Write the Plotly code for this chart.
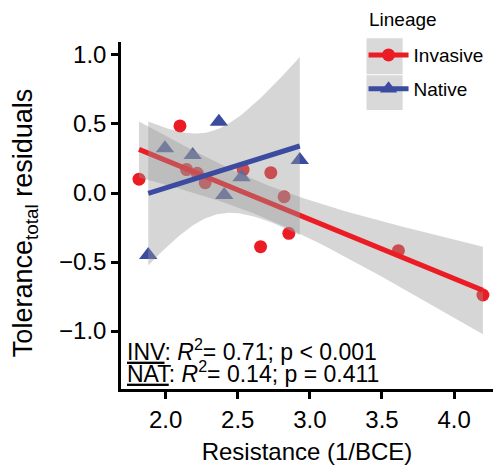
import numpy as np
import plotly.graph_objects as go

# ---- data ----
inv_x = [1.815, 2.099, 2.145, 2.219, 2.274, 2.537, 2.729, 2.821, 2.854, 2.658, 3.614, 4.200]
inv_y = [0.100, 0.486, 0.170, 0.143, 0.075, 0.170, 0.147, -0.027, -0.292, -0.389, -0.418, -0.739]
nat_x = [1.879, 1.995, 2.187, 2.369, 2.526, 2.406, 2.930]
nat_y = [-0.450, 0.324, 0.275, 0.517, 0.114, -0.014, 0.239]

lineages = ["Invasive", "Native"]
legend_title = "Lineage"
x_ticks = [2.0, 2.5, 3.0, 3.5, 4.0]
y_ticks = [-1.0, -0.5, 0.0, 0.5, 1.0]
x_title = "Resistance (1/BCE)"
y_title = "Tolerance<sub>total</sub> residuals"
stats_text = [
    "<u>INV</u>: <i>R</i><sup>2</sup>= 0.71; p &lt; 0.001",
    "<u>NAT</u>: <i>R</i><sup>2</sup>= 0.14; p = 0.411",
]
# two-sided 95% t quantiles for df = n - 2
t_quant = {10: 2.228, 5: 2.571}

RED = "#EC1C24"
BLUE = "#3B4BA0"
BAND = "rgba(153,153,153,0.4)"
FONT = "Liberation Sans, Arial, Helvetica, sans-serif"


def lm_band(x, y, npts=80):
    x = np.asarray(x, float)
    y = np.asarray(y, float)
    n = len(x)
    b1, b0 = np.polyfit(x, y, 1)
    resid = y - (b0 + b1 * x)
    s = np.sqrt(np.sum(resid ** 2) / (n - 2))
    sxx = np.sum((x - x.mean()) ** 2)
    g = np.linspace(x.min(), x.max(), npts)
    fit = b0 + b1 * g
    se = s * np.sqrt(1.0 / n + (g - x.mean()) ** 2 / sxx)
    t = t_quant[n - 2]
    return g, fit, fit - t * se, fit + t * se


fig = go.Figure()

# points (drawn first, ribbons overlay them as in ggplot)
fig.add_trace(go.Scatter(x=inv_x, y=inv_y, mode="markers", showlegend=False,
                         marker=dict(symbol="circle", size=13, color=RED, line=dict(width=0))))
fig.add_trace(go.Scatter(x=nat_x, y=nat_y, mode="markers", showlegend=False,
                         marker=dict(symbol="triangle-up", size=16, color=BLUE, line=dict(width=0))))

for xs, ys, col in [(inv_x, inv_y, RED), (nat_x, nat_y, BLUE)]:
    g, fit, lo, hi = lm_band(xs, ys)
    fig.add_trace(go.Scatter(x=np.concatenate([g, g[::-1]]), y=np.concatenate([hi, lo[::-1]]),
                             fill="toself", fillcolor=BAND, line=dict(width=0),
                             mode="lines", showlegend=False, hoverinfo="skip"))
    fig.add_trace(go.Scatter(x=g, y=fit, mode="lines", line=dict(color=col, width=5),
                             showlegend=False))

# legend entries
fig.add_trace(go.Scatter(x=[None], y=[None], mode="lines+markers", name=lineages[0],
                         legendgroup="a", line=dict(color=RED, width=5),
                         marker=dict(symbol="circle", size=13, color=RED)))
fig.add_trace(go.Scatter(x=[None], y=[None], mode="lines+markers", name=lineages[1],
                         legendgroup="b", line=dict(color=BLUE, width=5),
                         marker=dict(symbol="triangle-up", size=15, color=BLUE)))

# legend key backgrounds
fig.add_shape(type="rect", xref="paper", yref="paper", x0=0.660, x1=0.757, y0=0.907, y1=1.0107,
              fillcolor="#D9D9D9", line=dict(width=0), layer="below")
fig.add_shape(type="rect", xref="paper", yref="paper", x0=0.660, x1=0.757, y0=0.804, y1=0.904,
              fillcolor="#D9D9D9", line=dict(width=0), layer="below")

# legend title
fig.add_annotation(text=legend_title, xref="paper", yref="paper", x=0.660, y=1.066,
                   xanchor="left", yanchor="middle", showarrow=False,
                   font=dict(size=19, color="black", family=FONT))

# y-axis title
fig.add_annotation(text=y_title, xref="paper", yref="paper", x=0, y=0.478, xshift=-96,
                   xanchor="center", yanchor="middle", textangle=-90, showarrow=False,
                   font=dict(size=27, color="black", family=FONT))

fig.add_annotation(text=stats_text[0], xref="paper", yref="paper", x=0.01, y=0.113,
                   xanchor="left", yanchor="middle", showarrow=False,
                   font=dict(size=23, color="black", family=FONT))
fig.add_annotation(text=stats_text[1], xref="paper", yref="paper", x=0.01, y=0.050,
                   xanchor="left", yanchor="middle", showarrow=False,
                   font=dict(size=23, color="black", family=FONT))

fig.update_layout(
    width=498, height=467,
    margin=dict(l=121, r=5, t=42, b=78),
    plot_bgcolor="white", paper_bgcolor="white",
    font=dict(family=FONT, color="black", size=22),
    legend=dict(x=0.652, y=1.017, xanchor="left", yanchor="top",
                bgcolor="rgba(0,0,0,0)", font=dict(size=19),
                tracegroupgap=6, itemwidth=40),
    xaxis=dict(range=[1.69, 4.27], tickvals=x_ticks, ticktext=[f"{v:.1f}" for v in x_ticks],
               showline=True, linecolor="black", linewidth=2.5, ticks="outside",
               ticklen=7, tickwidth=2.5, tickcolor="black", showgrid=False, zeroline=False,
               tickfont=dict(size=24), ticklabelstandoff=0,
               title=dict(text=x_title, font=dict(size=24), standoff=12)),
    yaxis=dict(range=[-1.42, 1.094], tickvals=y_ticks,
               ticktext=["\u22121.0", "\u22120.5", "0.0", "0.5", "1.0"],
               showline=True, linecolor="black", linewidth=2.5, ticks="outside",
               ticklen=7, tickwidth=2.5, tickcolor="black", showgrid=False, zeroline=False,
               tickfont=dict(size=24)),
)

fig.write_html("out.html")
